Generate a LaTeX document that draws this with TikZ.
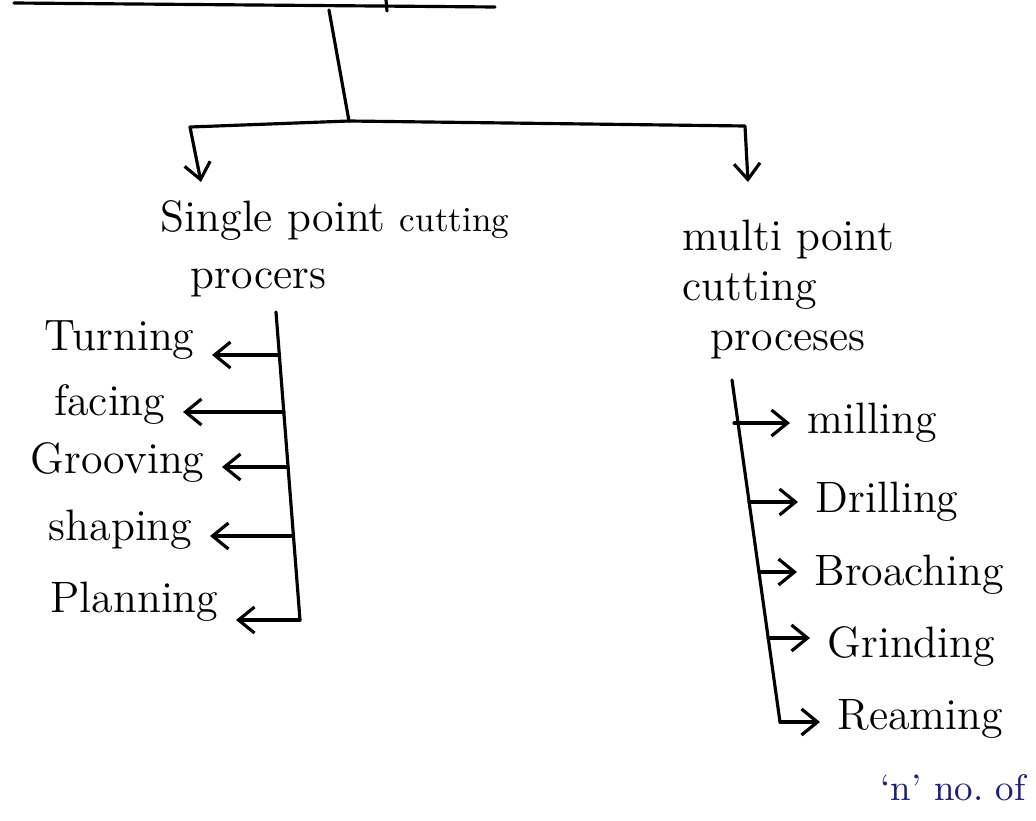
\documentclass[tikz,border=0pt]{standalone}
\usetikzlibrary{arrows.meta}
\definecolor{penblue}{RGB}{28,30,120}

\begin{document}
\begin{tikzpicture}[x=0.01cm, y=-0.01cm,
	ink/.style={line width=0.9pt, line cap=round, line join=round},
	tip/.style={ink, -{Straight Barb[length=1.6mm, width=2.6mm]}},
	hdr/.style={anchor=base west, inner sep=0pt, font=\fontsize{12.5}{15}\selectfont},
	lleaf/.style={anchor=base east, inner sep=0pt, outer xsep=5pt, font=\fontsize{12.5}{15}\selectfont},
	rleaf/.style={anchor=base west, inner sep=0pt, outer xsep=5pt, font=\fontsize{12.5}{15}\selectfont}]
	\useasboundingbox (0,0) rectangle (1036,821);
	
	% Top rule (cut off by the page edge) and the stem
	\draw[ink] (14,3) -- (495,7);
	\draw[ink] (386,0) -- (387,11);
	\coordinate (stem) at (329,10);
	\coordinate (hub) at (349,121);
	\draw[ink] (stem) -- (hub);
	
	% Two main branches
	\coordinate (lcorner) at (190,127);
	\coordinate (rcorner) at (745,126);
	\coordinate (ltip) at (201,182);
	\coordinate (rtip) at (748,182);
	\draw[tip] (hub) -- (lcorner) -- (ltip);
	\draw[tip] (hub) -- (rcorner) -- (rtip);
	
	% Headings
	\node[hdr] (single) at (160,231) {Single point {\fontsize{10}{12}\selectfont cutting}};
	\node[hdr] (singleb) at (190,288) {procers};
	\node[hdr] (multi) at (682,250) {multi point};
	\node[hdr] (multib) at (682,300) {cutting};
	\node[hdr] (multic) at (710,350) {proceses};
	
	% Single point tools: spine and leaves (branch y, spine x, tip x, text baseline)
	\coordinate (ltop) at (276,312);
	\coordinate (lbot) at (300,620);
	\draw[ink] (ltop) -- (lbot);
	\foreach \name/\txt/\by/\sx/\tx/\ty in {turn/Turning/355/279/212/350, face/facing/412/284/183/415,
		groove/Grooving/467/288/222/473, shape/shaping/536/293/210/540, plan/Planning/620/300/236/612}{
		\coordinate (b-\name) at (\sx,\by);
		\node[lleaf] (\name) at (\tx,\ty) {\txt};
		\draw[tip] (b-\name) -- (\name.east |- b-\name);
	}
	
	% Multi point tools: spine and leaves
	\coordinate (rtop) at (732,380);
	\coordinate (rbot) at (780,722);
	\draw[ink] (rtop) -- (rbot);
	\foreach \name/\txt/\by/\sx/\tx/\ty in {mill/milling/423/734/790/433, drill/Drilling/502/749/798/512,
		broach/Broaching/572/759/797/585, grind/Grinding/638/768/810/657, ream/Reaming/722/780/820/729}{
		\coordinate (b-\name) at (\sx,\by);
		\node[rleaf] (\name) at (\tx,\ty) {\txt};
		\draw[tip] (b-\name) -- (\name.west |- b-\name);
	}
	
	% Note in blue ink
	\node[hdr, text=penblue, font=\fontsize{10.5}{12}\selectfont] (note) at (880,800) {`n' no.\ of};
\end{tikzpicture}
\end{document}
